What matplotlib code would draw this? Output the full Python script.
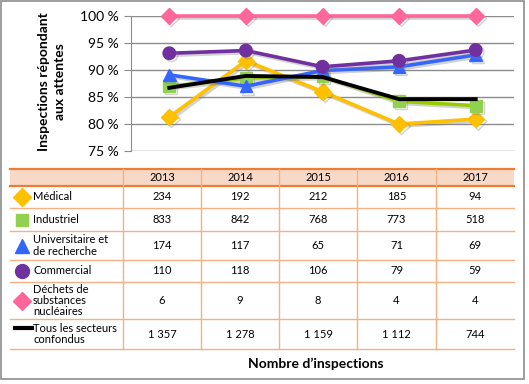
import matplotlib
matplotlib.use("Agg")
import matplotlib.pyplot as plt
from matplotlib.patches import Rectangle
import matplotlib.patheffects as pe

plt.rcParams['font.family'] = ['Lato', 'DejaVu Sans']

years = ["2013", "2014", "2015", "2016", "2017"]
series_names = ["Médical", "Industriel", "Universitaire et\nde recherche", "Commercial",
                "Déchets de\nsubstances\nnucléaires", "Tous les secteurs\nconfondus"]
medical = [81.3, 91.7, 86.0, 80.0, 80.9]
industriel = [87.0, 88.5, 88.8, 84.2, 83.4]
universitaire = [89.1, 87.0, 89.9, 90.6, 92.8]
commercial = [93.1, 93.6, 90.6, 91.7, 93.7]
dechets = [100.0, 100.0, 100.0, 100.0, 100.0]
tous = [86.7, 88.9, 88.7, 84.6, 84.6]

counts_medical = ["234", "192", "212", "185", "94"]
counts_industriel = ["833", "842", "768", "773", "518"]
counts_universitaire = ["174", "117", "65", "71", "69"]
counts_commercial = ["110", "118", "106", "79", "59"]
counts_dechets = ["6", "9", "8", "4", "4"]
counts_tous = ["1 357", "1 278", "1 159", "1 112", "744"]

yticks = [75, 80, 85, 90, 95, 100]
ytick_labels = ["75 %", "80 %", "85 %", "90 %", "95 %", "100 %"]

W, H = 529, 384
fig = plt.figure(figsize=(W / 100, H / 100), dpi=100)

# background / table axes in pixel coordinates
bg = fig.add_axes([0, 0, 1, 1])
bg.set_xlim(0, W)
bg.set_ylim(H, 0)
bg.axis("off")
bg.add_patch(Rectangle((1, 1), 523, 378, fill=False, edgecolor="#8c8c8c", lw=1.2))

# chart axes
ax_l, ax_r, ax_t, ax_b = 131, 514, 16, 151
ax = fig.add_axes([ax_l / W, 1 - ax_b / H, (ax_r - ax_l) / W, (ax_b - ax_t) / H])
ax.set_xlim(-0.5, 4.5)
ax.set_ylim(75, 100)
x = list(range(len(years)))

styles = [
    (medical, "#FFC000", "#FFC000", "D", 8.5),
    (industriel, "#99CC00", "#92D050", "s", 8.5),
    (universitaire, "#3366FF", "#3366FF", "^", 9),
    (commercial, "#7030A0", "#7030A0", "o", 9),
    (dechets, "#FF6699", "#FF6699", "D", 8),
]
shadow = [pe.SimpleLineShadow(offset=(1.5, -1.5), shadow_color="gray", alpha=0.35), pe.Normal()]
for vals, lc, mc, m, ms in styles:
    ax.plot(x, vals, color=lc, lw=2.6, marker=m, markersize=ms, markerfacecolor=mc,
            markeredgecolor=mc, clip_on=False, zorder=3, path_effects=shadow)
ax.plot(x, tous, color="black", lw=2.8, clip_on=False, zorder=4)

ax.set_yticks(yticks)
ax.set_yticklabels(ytick_labels, fontsize=10)
ax.set_xticks([])
ax.grid(axis="y", color="#8c8c8c", lw=1)
ax.set_axisbelow(True)
for s in ["top", "right", "bottom"]:
    ax.spines[s].set_visible(False)
ax.spines["left"].set_color("#8c8c8c")
ax.tick_params(axis="y", color="#8c8c8c", length=5, pad=4)
ax.set_facecolor("none")
fig.text(52 / W, 1 - 82 / H, "Inspections répondant\naux attentes", rotation=90,
         ha="center", va="center", fontsize=10, fontweight="bold", linespacing=1.3)

# table
tx0, tx1 = 10, 514
col_edges = [123, 201, 279, 357, 436, 514]
row_edges = [169, 186, 208, 231, 260, 282, 319, 349]
light = "#F4B183"
dark = "#ED7D31"
bg.add_patch(Rectangle((tx0, row_edges[0]), tx1 - tx0, row_edges[1] - row_edges[0],
                       facecolor="#F8D9C8", edgecolor="none", zorder=1))
for i, yv in enumerate(row_edges):
    c = dark if i in (0, 1) else light
    lw = 1.6 if i in (0, 1) else 1.0
    bg.plot([tx0, tx1], [yv, yv], color=c, lw=lw, zorder=2)
for xe in col_edges[:-1]:
    bg.plot([xe, xe], [row_edges[0], row_edges[-1]], color=light, lw=1.0, zorder=2)

for j, yr in enumerate(years):
    cx = (col_edges[j] + col_edges[j + 1]) / 2
    bg.text(cx, (row_edges[0] + row_edges[1]) / 2, yr, ha="center", va="center", fontsize=8)

all_counts = [counts_medical, counts_industriel, counts_universitaire, counts_commercial,
              counts_dechets, counts_tous]
key_markers = [("D", "#FFC000", 9.5), ("s", "#92D050", 9), ("^", "#3366FF", 10),
               ("o", "#7030A0", 10), ("D", "#FF6699", 9.5)]
for i, (name, cnts) in enumerate(zip(series_names, all_counts)):
    cy = (row_edges[i + 1] + row_edges[i + 2]) / 2
    if i < 5:
        m, c, ms = key_markers[i]
        bg.plot([22], [cy], marker=m, color=c, markersize=ms, linestyle="none", zorder=3)
    else:
        bg.plot([15, 32], [cy - 6, cy - 6], color="black", lw=3, zorder=3)
    bg.text(33, cy, name, ha="left", va="center", fontsize=8, linespacing=1.05)
    for j, v in enumerate(cnts):
        cx = (col_edges[j] + col_edges[j + 1]) / 2
        bg.text(cx, cy, v, ha="center", va="center", fontsize=8)

bg.text(316, 364, "Nombre d\u2019inspections", ha="center", va="center", fontsize=10,
        fontweight="bold")

fig.savefig("out.png", dpi=100)
